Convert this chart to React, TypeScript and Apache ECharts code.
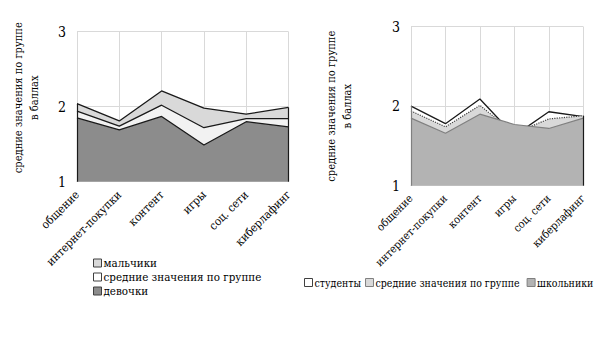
import React, { useEffect, useRef } from "react";
import * as echarts from "echarts";

const categories = ["общение", "интернет-покупки", "контент", "игры", "соц. сети", "киберлафинг"];
const yTicks = [1, 2, 3];

// left chart
const boys = [2.04, 1.81, 2.21, 1.98, 1.9, 1.99];
const groupMeanLeft = [1.94, 1.74, 2.02, 1.72, 1.84, 1.84];
const girls = [1.85, 1.69, 1.87, 1.49, 1.8, 1.73];

// right chart
const students = [2.0, 1.78, 2.09, 1.63, 1.93, 1.87];
const groupMeanRight = [1.94, 1.74, 2.01, 1.66, 1.84, 1.88];
const pupils = [1.85, 1.66, 1.9, 1.77, 1.72, 1.85];

const FONT = "DejaVu Serif Condensed";
const GRID = "#d9d9d9";

export default function App() {
  const ref = useRef<HTMLDivElement>(null);
  useEffect(() => {
    if (!ref.current) return;
    const chart = echarts.init(ref.current, undefined, { renderer: "svg" });
    const last = categories.length - 1;
    const leftTop0 = Math.max(boys[0], groupMeanLeft[0], girls[0]);
    const leftTopN = Math.max(boys[last], groupMeanLeft[last], girls[last]);
    const rightTop0 = Math.max(students[0], groupMeanRight[0], pupils[0]);
    const rightTopN = Math.max(students[last], groupMeanRight[last], pupils[last]);

    const xAxisBase = (idx: number, fs: number) => ({
      type: "category",
      gridIndex: idx,
      data: categories,
      boundaryGap: false,
      axisLine: { show: true, lineStyle: { color: GRID, width: 1 } },
      axisTick: { show: false },
      splitLine: { show: true, lineStyle: { color: GRID, width: 1 } },
      axisLabel: { rotate: 45, fontFamily: FONT, fontSize: fs, color: "#000", margin: 11, interval: 0 },
    });
    const yAxisBase = (idx: number, gap: number, shiftUp: number) => ({
      type: "value",
      gridIndex: idx,
      min: yTicks[0],
      max: yTicks[yTicks.length - 1],
      interval: 1,
      axisLine: { show: false },
      axisTick: { show: false },
      splitLine: { show: true, lineStyle: { color: GRID, width: 1 } },
      axisLabel: { fontFamily: FONT, fontSize: 14, color: "#000", margin: 11 },
      name: "средние значения по группе\nв баллах",
      nameLocation: "middle",
      nameRotate: 90,
      nameGap: gap,
      nameTextStyle: { fontFamily: FONT, fontSize: 11, color: "#000", lineHeight: 16.5, padding: [0, 0, 0, shiftUp * 2] },
    });

    const area = (name: string, data: number[], idx: number, z: number, fill: string, line: string, lineType: string, width: number, extra: any = {}) => ({
      type: "line",
      name,
      xAxisIndex: idx,
      yAxisIndex: idx,
      data,
      z,
      symbol: "none",
      lineStyle: { color: line, width, type: lineType },
      areaStyle: { color: fill, opacity: 1, origin: "start" },
      itemStyle: { color: fill },
      ...extra,
    });

    const edges = (pairs: [number, number][], color: string) => ({
      silent: true,
      symbol: "none",
      label: { show: false },
      lineStyle: { color, width: 1.2, type: "solid" },
      data: pairs.map(([xi, top]) => [{ coord: [xi, yTicks[0]] }, { coord: [xi, top] }]),
    });

    chart.setOption({
      animation: false,
      textStyle: { fontFamily: FONT },
      grid: [
        { left: 77, top: 31.7, width: 211.5, height: 150 },
        { left: 411, top: 26.7, width: 172.3, height: 159 },
      ],
      xAxis: [xAxisBase(0, 11.5), xAxisBase(1, 11)],
      yAxis: [yAxisBase(0, 34, 9), yAxisBase(1, 55, 0)],
      legend: [
        {
          orient: "vertical",
          left: 93,
          top: 257,
          padding: 0,
          itemWidth: 8,
          itemHeight: 8,
          itemGap: 2,
          icon: "rect",
          textStyle: { fontFamily: FONT, fontSize: 11.5, color: "#000", padding: [0, 0, 0, -3] },
          selectedMode: false,
          data: [
            { name: "мальчики", itemStyle: { color: "#d9d9d9", borderColor: "#404040", borderWidth: 1 } },
            { name: "средние значения по группе", itemStyle: { color: "#ffffff", borderColor: "#404040", borderWidth: 1 } },
            { name: "девочки", itemStyle: { color: "#8c8c8c", borderColor: "#404040", borderWidth: 1 } },
          ],
        },
        {
          orient: "horizontal",
          left: 304,
          top: 277,
          padding: 0,
          width: 300,
          itemWidth: 8,
          itemHeight: 8,
          itemGap: 4,
          icon: "rect",
          textStyle: { fontFamily: FONT, fontSize: 10.5, color: "#000", padding: [0, 0, 0, -3] },
          selectedMode: false,
          data: [
            { name: "студенты", itemStyle: { color: "#ffffff", borderColor: "#404040", borderWidth: 1 } },
            { name: "средние значения по группе ", itemStyle: { color: "#d9d9d9", borderColor: "#808080", borderWidth: 1 } },
            { name: "школьники", itemStyle: { color: "#b3b3b3", borderColor: "#808080", borderWidth: 1 } },
          ],
        },
      ],
      series: [
        area("мальчики", boys, 0, 2, "#d9d9d9", "#1a1a1a", "solid", 1.3),
        area("средние значения по группе", groupMeanLeft, 0, 3, "#f2f2f2", "#1a1a1a", "solid", 1.3),
        area("девочки", girls, 0, 4, "#8c8c8c", "#1a1a1a", "solid", 1.3, {
          markLine: edges([[0, leftTop0], [last, leftTopN]], "#1a1a1a"),
        }),
        area("студенты", students, 1, 2, "#ffffff", "#1a1a1a", "solid", 1.3),
        area("средние значения по группе ", groupMeanRight, 1, 3, "#d9d9d9", "#404040", "dotted", 1.2),
        area("школьники", pupils, 1, 4, "#b3b3b3", "#808080", "solid", 1.2, {
          markLine: edges([[0, rightTop0]], "#808080"),
        }),
        {
          type: "line",
          name: "edge",
          xAxisIndex: 1,
          yAxisIndex: 1,
          z: 5,
          data: [],
          markLine: edges([[last, rightTopN]], "#1a1a1a"),
        },
      ],
    });
    return () => chart.dispose();
  }, []);
  return <div ref={ref} style={{ position: "absolute", left: 0, top: 0, width: 616, height: 344 }} />;
}
